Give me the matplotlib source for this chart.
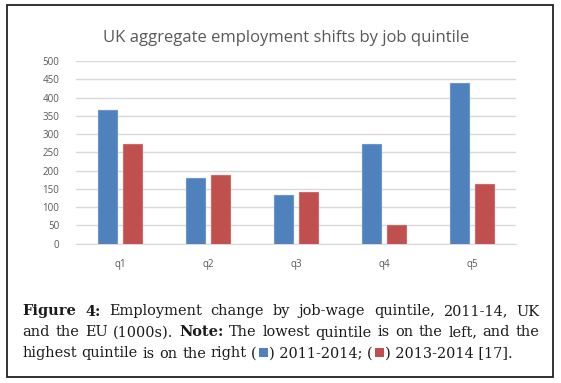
import matplotlib
matplotlib.use("Agg")
import matplotlib.pyplot as plt
from matplotlib.patches import Rectangle
import numpy as np

categories = ["q1", "q2", "q3", "q4", "q5"]
series_2011_2014 = [366, 180, 132, 273, 440]
series_2013_2014 = [273, 187, 141, 52, 164]
yticks = [0, 50, 100, 150, 200, 250, 300, 350, 400, 450, 500]
title = "UK aggregate employment shifts by job quintile"

BLUE = "#4F81BD"
RED = "#C0504D"
GREY = "#595959"

W, H = 561, 383
fig = plt.figure(figsize=(W / 100, H / 100), dpi=100)

# outer frame
fig.patches.append(Rectangle((6.5 / W, 1 - 377 / H), 546.5 / W, 372 / H, transform=fig.transFigure,
                             fill=False, edgecolor="#222222", linewidth=1.3))

ax = fig.add_axes([76 / W, 1 - 243.7 / H, 440 / W, 182.7 / H])
x = np.arange(len(categories))
bw = 0.22
off = 0.142
ax.bar(x - off, series_2011_2014, width=bw, color=BLUE, edgecolor="#6A96CC", linewidth=0.8, zorder=3)
ax.bar(x + off, series_2013_2014, width=bw, color=RED, edgecolor="#D06A67", linewidth=0.8, zorder=3)
ax.set_xlim(-0.5, 4.5)
ax.set_ylim(0, 500)
ax.set_yticks(yticks)
ax.set_xticks(x)
ax.set_xticklabels(categories)
ax.yaxis.grid(True, color="#D9D9D9", linewidth=1.0, zorder=0)
ax.set_axisbelow(True)
for s in ["top", "right", "left"]:
    ax.spines[s].set_visible(False)
ax.spines["bottom"].set_color("#D9D9D9")
ax.tick_params(axis="both", length=0, labelsize=7, labelcolor=GREY)
ax.tick_params(axis="y", pad=12)
ax.tick_params(axis="x", pad=11)
for lab in ax.get_xticklabels() + ax.get_yticklabels():
    lab.set_family("Open Sans")
ax.set_facecolor("white")

fig.canvas.draw()
renderer = fig.canvas.get_renderer()

def measure(s, fs, family, weight="normal"):
    t = fig.text(0, 0, s, fontsize=fs, family=family, weight=weight)
    bb = t.get_window_extent(renderer)
    t.remove()
    return bb.width

# title fitted to reference width
TFAM = "Open Sans"
tfs = 12.0 * 366.0 / measure(title, 12.0, TFAM)
fig.text(286 / W, 1 - 42.3 / H, title, ha="center", va="baseline", fontsize=tfs,
         color=GREY, family=TFAM)

# justified caption
SERIF = "DejaVu Serif"
line3 = [("highest", "normal"), ("quintile", "normal"), ("is", "normal"), ("on", "normal"), ("the", "normal"),
         ("right", "normal"), ("(", "normal", BLUE), (") 2011-2014;", "normal"), ("(", "normal", RED),
         (") 2013-2014 [17].", "normal")]
sq = 9.0

def line3_width(fs):
    sp = measure("a a", fs, SERIF) - measure("aa", fs, SERIF)
    w = 0
    for tok in line3:
        w += measure(tok[0], fs, SERIF, tok[1])
        w += (sq + 3) if len(tok) == 3 else sp
    return w - sp

FS = 11.0 * 488.0 / line3_width(11.0)

lines = [
    [("Figure", "bold"), ("4:", "bold"), ("Employment", "normal"), ("change", "normal"), ("by", "normal"),
     ("job-wage", "normal"), ("quintile,", "normal"), ("2011-14,", "normal"), ("UK", "normal")],
    [("and", "normal"), ("the", "normal"), ("EU", "normal"), ("(1000s).", "normal"), ("Note:", "bold"),
     ("The", "normal"), ("lowest", "normal"), ("quintile", "normal"), ("is", "normal"), ("on", "normal"),
     ("the", "normal"), ("left,", "normal"), ("and", "normal"), ("the", "normal")],
]

x0, x1 = 22.5, 539.5
ys = [310, 331, 352]
TC = "#1a1a1a"
for li, toks in enumerate(lines):
    widths = [measure(t, FS, SERIF, w) for t, w in toks]
    gap = (x1 - x0 - sum(widths)) / (len(toks) - 1)
    cx = x0
    for (t, w), wd in zip(toks, widths):
        fig.text(cx / W, 1 - ys[li] / H, t, fontsize=FS, family=SERIF, weight=w,
                 va="center_baseline", ha="left", color=TC)
        cx += wd + gap

space = measure("a a", FS, SERIF) - measure("aa", FS, SERIF)
cx = x0
for tok in line3:
    t, w = tok[0], tok[1]
    wd = measure(t, FS, SERIF, w)
    fig.text(cx / W, 1 - ys[2] / H, t, fontsize=FS, family=SERIF, weight=w,
             va="center_baseline", ha="left", color=TC)
    cx += wd
    if len(tok) == 3:
        cx += 2
        fig.patches.append(Rectangle((cx / W, 1 - (ys[2] + 4.5) / H), sq / W, sq / H,
                                     transform=fig.transFigure, color=tok[2], linewidth=0))
        cx += sq + 1
    else:
        cx += space

fig.savefig("out.png", dpi=100)
